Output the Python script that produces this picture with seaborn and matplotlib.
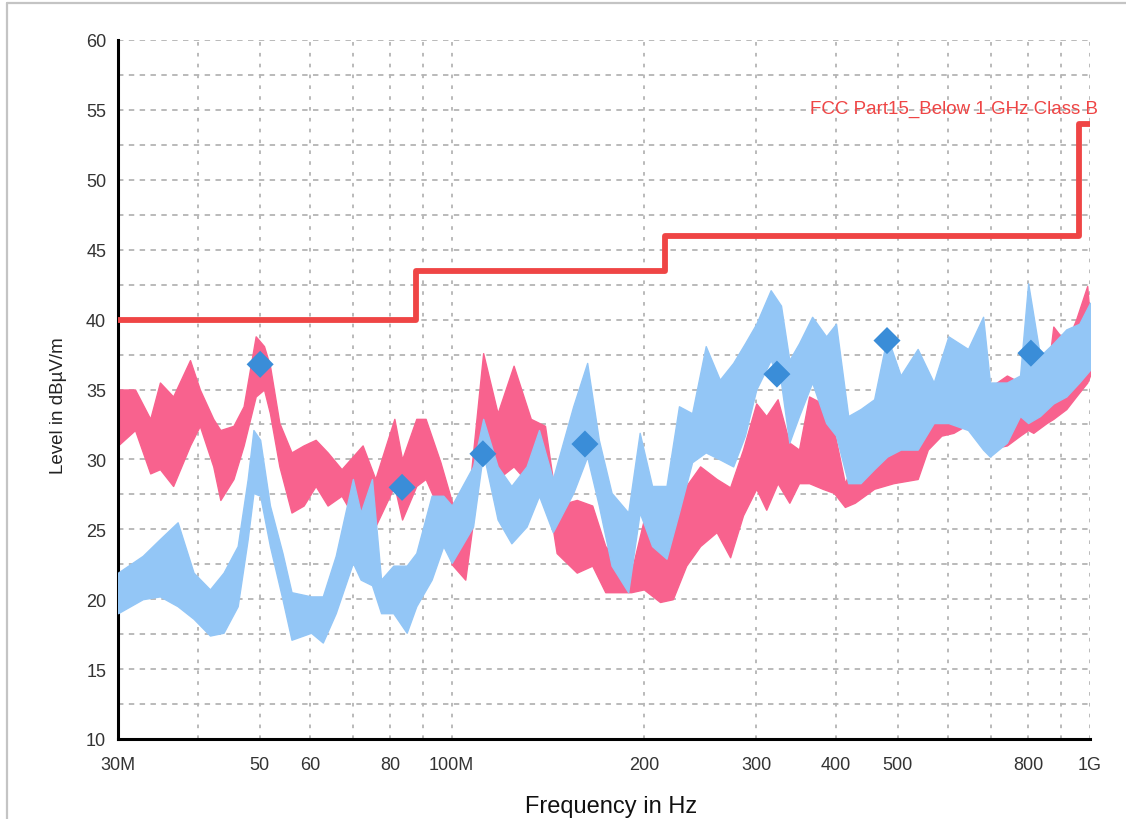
import numpy as np
import pandas as pd
import matplotlib
matplotlib.use("Agg")
import matplotlib.pyplot as plt
from matplotlib.lines import Line2D
import seaborn as sns

# ---- measured spectra (MHz, dBuV/m): upper / lower envelope of each sweep ----
horiz_freq = [30.0, 31.9, 33.7, 34.9, 36.6, 38.9, 40.3, 42.3, 43.4, 45.5, 47.2, 49.3,
              50.8, 51.9, 53.7, 56.1, 58.6, 61.2, 63.9, 67.2, 72.5, 75.9, 81.3, 83.6,
              88.0, 91.0, 96.0, 100.0, 105.0, 112.0, 118.0, 125.0, 133.0, 140.0, 146.0,
              157.0, 166.0, 174.0, 191.0, 200.0, 212.0, 222.0, 233.0, 245.0, 260.0,
              273.0, 286.0, 300.0, 311.0, 324.0, 338.0, 350.0, 363.0, 381.0, 397.0,
              413.0, 428.0, 459.0, 492.0, 537.0, 557.0, 585.0, 611.0, 649.0, 689.0,
              741.0, 777.0, 800.0, 815.0, 855.0, 876.0, 918.0, 951.0, 990.0, 1000.0]
horiz_high = [35.0, 35.0, 32.9, 35.5, 34.5, 37.1, 35.0, 32.9, 32.1, 32.4, 33.8, 38.8,
              38.1, 36.7, 32.6, 30.5, 31.0, 31.4, 30.5, 29.3, 31.0, 28.6, 32.9, 30.0,
              32.9, 32.9, 29.8, 27.0, 25.0, 37.6, 33.3, 36.7, 32.9, 32.4, 26.7,
              27.1, 26.7, 23.8, 21.9, 25.7, 23.3, 24.8, 28.1, 29.5, 28.6,
              28.0, 30.7, 34.0, 33.1, 34.3, 31.2, 30.7, 34.5, 34.0, 32.1,
              28.3, 30.0, 31.0, 31.5, 31.0, 34.7, 35.9, 38.1, 37.4, 35.0,
              36.0, 35.5, 37.1, 36.4, 35.5, 39.5, 38.3, 40.0, 42.4, 40.0]
horiz_low = [31.0, 32.1, 29.0, 29.3, 28.1, 31.0, 32.4, 29.5, 27.1, 28.6, 31.0, 34.5,
             35.0, 33.3, 29.5, 26.2, 26.7, 28.1, 26.7, 27.4, 24.8, 25.2, 28.1, 25.7,
             28.1, 28.6, 26.2, 22.5, 21.4, 31.0, 28.6, 29.5, 28.1, 28.6, 23.3,
             21.9, 22.4, 20.5, 20.5, 20.7, 19.8, 20.0, 22.4, 23.8, 24.8,
             23.0, 26.0, 27.9, 26.4, 28.3, 26.9, 28.3, 28.3, 27.9, 27.6,
             26.6, 26.9, 27.9, 28.3, 28.6, 30.7, 31.7, 31.9, 32.6, 30.7,
             31.0, 31.7, 32.1, 31.9, 32.6, 32.9, 33.6, 34.5, 35.5, 36.0]

vert_freq = [30.0, 32.8, 34.9, 37.2, 39.4, 41.8, 43.9, 46.2, 47.9, 48.9, 50.1, 51.9,
             54.3, 56.1, 60.2, 62.8, 65.8, 70.0, 72.0, 75.0, 77.5, 81.0, 85.0, 88.0,
             93.0, 97.0, 100.0, 108.0, 112.0, 118.0, 124.0, 131.0, 137.0, 144.0,
             155.0, 163.0, 170.0, 178.0, 189.0, 197.0, 206.0, 217.0, 227.0, 238.0,
             250.0, 263.0, 276.0, 288.0, 300.0, 316.0, 328.0, 338.0, 350.0, 367.0,
             386.0, 400.0, 418.0, 437.0, 459.0, 481.0, 505.0, 537.0, 569.0, 600.0,
             644.0, 680.0, 697.0, 741.0, 777.0, 800.0, 835.0, 876.0, 918.0, 962.0, 1000.0]
vert_high = [21.9, 23.1, 24.3, 25.5, 21.9, 20.7, 21.9, 23.8, 28.6, 32.1, 31.4, 26.7,
             23.3, 20.5, 20.2, 20.2, 23.1, 28.6, 26.2, 28.6, 21.4, 22.4, 22.4, 23.3,
             27.4, 27.4, 26.7, 29.5, 32.9, 29.5, 28.1, 29.5, 32.1, 28.6,
             33.8, 36.9, 31.4, 27.6, 26.2, 31.9, 28.1, 28.1, 33.8, 33.3,
             38.1, 35.7, 36.9, 38.3, 39.7, 42.1, 41.0, 37.1, 38.3, 40.2,
             38.8, 39.7, 33.1, 33.6, 34.3, 38.8, 36.0, 37.9, 35.5, 38.8,
             37.9, 40.2, 35.5, 35.5, 36.0, 42.6, 37.4, 38.3, 39.3, 39.7, 41.2]
vert_low = [19.0, 20.0, 20.2, 19.5, 18.6, 17.4, 17.6, 19.5, 24.3, 27.6, 27.4, 23.8,
            20.0, 17.1, 17.6, 16.9, 19.0, 22.6, 21.4, 21.0, 19.0, 19.0, 17.6, 19.5,
            21.4, 23.8, 22.6, 25.2, 30.5, 25.7, 24.0, 25.2, 27.4, 24.8,
            27.6, 30.2, 26.7, 22.4, 20.5, 26.2, 23.8, 22.9, 26.2, 29.8,
            30.5, 30.0, 29.5, 31.7, 35.0, 37.1, 35.5, 31.2, 33.1, 35.5,
            32.6, 31.7, 28.3, 28.3, 29.3, 30.2, 30.7, 30.7, 32.6, 32.6,
            32.1, 30.7, 30.2, 31.2, 33.1, 32.6, 33.1, 34.0, 34.5, 35.5, 36.4]

# ---- final (quasi-peak) measurement points ----
final_freq = [50.1, 83.6, 111.9, 161.7, 323.2, 480.8, 808.0]
final_level = [36.8, 28.0, 30.4, 31.1, 36.1, 38.5, 37.6]

# ---- FCC Part 15 class B limit (3 m) ----
limit_freq = [30.0, 88.0, 216.0, 960.0, 1000.0]
limit_level = [40.0, 43.5, 46.0, 54.0, 54.0]
limit_name = "FCC Part15_Below 1 GHz Class B"

x_ticks = [30, 40, 50, 60, 70, 80, 90, 100, 200, 300, 400, 500, 600, 700, 800, 900, 1000]
x_tick_labels = ["30M", "", "50", "60", "", "80", "", "100M", "200", "300", "400",
                 "500", "", "", "800", "", "1G"]
y_ticks = [10, 15, 20, 25, 30, 35, 40, 45, 50, 55, 60]

PINK = "#F8628E"
LIGHT_BLUE = "#93C6F6"
MARK_BLUE = "#3A8DD8"
LIMIT_RED = "#EF4545"

sns.set_theme(style="white")
plt.rcParams["font.family"] = ["Liberation Sans", "DejaVu Sans"]

fig = plt.figure(figsize=(11.26, 8.2), dpi=100)
ax = fig.add_axes([118 / 1126, 1 - 740 / 820, (1090 - 118) / 1126, (740 - 41) / 820])

# light frame around the chart window
fig.add_artist(Line2D([7 / 1126, 1.0], [1 - 4 / 820, 1 - 4 / 820], color="#c4c4c4",
                      lw=1.6, transform=fig.transFigure))
fig.add_artist(Line2D([7 / 1126, 7 / 1126], [0.0, 1 - 4 / 820], color="#c4c4c4",
                      lw=1.6, transform=fig.transFigure))

ax.set_xscale("log")
ax.set_xlim(30, 1000)
ax.set_ylim(10, 60)

# grid
for y in np.arange(12.5, 60.1, 2.5):
    ax.axhline(y, color="#b4b4b4", lw=1.3, ls=(0, (3, 3)), zorder=0)
for x in x_ticks[1:]:
    ax.axvline(x, color="#b4b4b4", lw=1.3, ls=(0, (2, 4)), zorder=0)

# spectra
ax.fill_between(horiz_freq, horiz_low, horiz_high, color=PINK, lw=1.0, zorder=2)
ax.fill_between(vert_freq, vert_low, vert_high, color=LIGHT_BLUE, lw=1.0, zorder=3)

# limit line
lim_df = pd.DataFrame({"freq": limit_freq, "level": limit_level})
sns.lineplot(data=lim_df, x="freq", y="level", drawstyle="steps-post", color=LIMIT_RED,
             lw=4.2, ax=ax, zorder=4)
ax.text(1030, 54.5, limit_name, color=LIMIT_RED, ha="right", va="bottom", fontsize=13.5)

# final measurement markers
fin_df = pd.DataFrame({"freq": final_freq, "level": final_level})
sns.scatterplot(data=fin_df, x="freq", y="level", marker="D", s=190, color=MARK_BLUE,
                edgecolor="none", ax=ax, zorder=5)

ax.xaxis.set_minor_locator(matplotlib.ticker.NullLocator())
ax.set_xticks(x_ticks)
ax.set_xticklabels(x_tick_labels)
ax.set_yticks(y_ticks)
ax.set_yticks(np.arange(12.5, 60, 5), minor=True)
ax.tick_params(axis="both", which="both", direction="inout", length=13, width=2,
               color="black", labelsize=13, labelcolor="#333333")
ax.tick_params(axis="x", pad=6)
ax.tick_params(axis="y", pad=2)

for side in ["top", "right"]:
    ax.spines[side].set_visible(False)
for side in ["left", "bottom"]:
    ax.spines[side].set_color("black")
    ax.spines[side].set_linewidth(2.2)

ax.set_xlabel("Frequency in Hz", fontsize=17, color="#111111")
ax.xaxis.set_label_coords(0.507, -0.080)
ax.set_ylabel("Level in dBµV/m", fontsize=13.5, color="#222222")
ax.yaxis.set_label_coords(-0.0525, 0.479)

fig.savefig("out.png", dpi=100)
